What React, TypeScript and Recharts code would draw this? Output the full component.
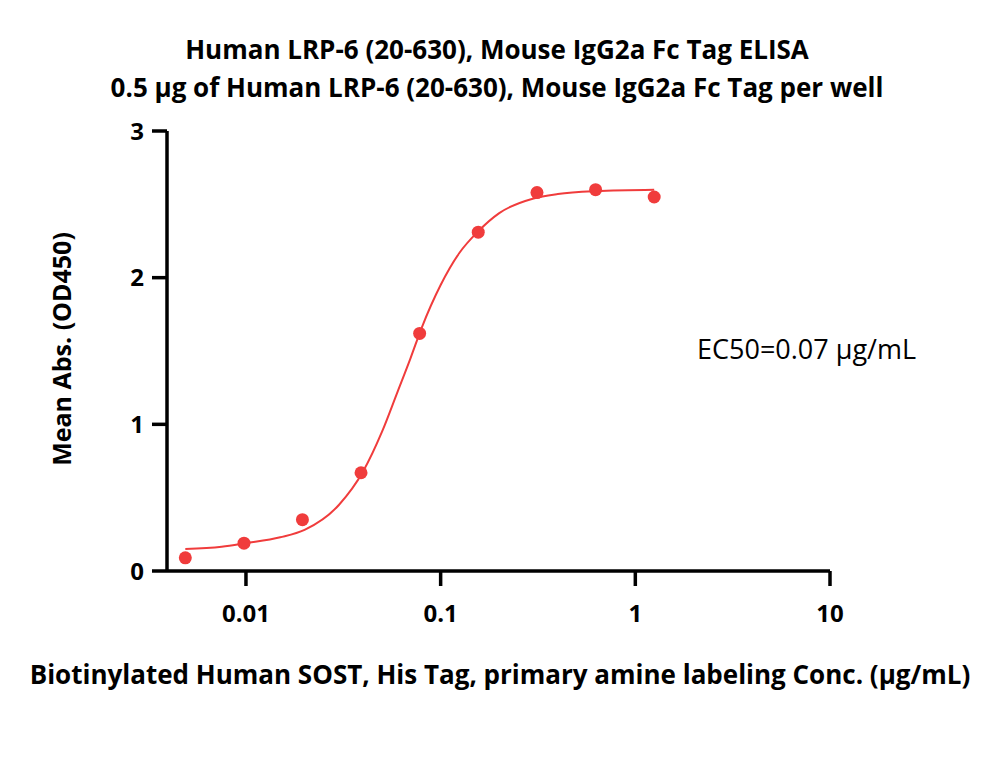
import React from 'react';
import { ComposedChart, Line, Scatter, XAxis, YAxis } from 'recharts';

const concentrations = [0.00488, 0.00977, 0.0195, 0.039, 0.078, 0.156, 0.3125, 0.625, 1.25];
const meanAbs = [0.09, 0.19, 0.35, 0.67, 1.62, 2.31, 2.58, 2.6, 2.55];

const curveX = [0.00488, 0.0075, 0.01, 0.015, 0.02, 0.03, 0.04, 0.05, 0.06, 0.07, 0.08, 0.1, 0.125, 0.157, 0.2, 0.3, 0.4, 0.625, 1.25];
const curveY = [0.15, 0.165, 0.19, 0.23, 0.28, 0.45, 0.68, 0.95, 1.22, 1.45, 1.66, 1.95, 2.17, 2.32, 2.44, 2.54, 2.57, 2.59, 2.6];

const xTicks = [0.01, 0.1, 1, 10];
const xTickLabels = ['0.01', '0.1', '1', '10'];
const yTicks = [0, 1, 2, 3];

const titleLine1 = 'Human LRP-6 (20-630), Mouse IgG2a Fc Tag ELISA';
const titleLine2 = '0.5 μg of Human LRP-6 (20-630), Mouse IgG2a Fc Tag per well';
const xLabel = 'Biotinylated Human SOST, His Tag, primary amine labeling Conc. (μg/mL)';
const yLabel = 'Mean Abs. (OD450)';
const ec50Text = 'EC50=0.07 μg/mL';

const pointData = concentrations.map((x, i) => ({ x, y: meanAbs[i] }));
const curveData = curveX.map((x, i) => ({ x, y: curveY[i] }));

const RED = '#F03C3C';
const FONT = "'Open Sans', sans-serif";

const XTick = (props: any) => {
  const { x, y, payload } = props;
  const idx = xTicks.indexOf(payload.value);
  return (
    <text x={x} y={y} dy="0.72em" textAnchor="middle" fontFamily={FONT} fontWeight={700} fontSize={24} fill="#000">
      {idx >= 0 ? xTickLabels[idx] : String(payload.value)}
    </text>
  );
};

const YTick = (props: any) => {
  const { x, y, payload } = props;
  return (
    <text x={x} y={y} dy="0.36em" textAnchor="end" fontFamily={FONT} fontWeight={700} fontSize={24} fill="#000">
      {String(payload.value)}
    </text>
  );
};

export default function App() {
  return (
    <div style={{ position: 'absolute', left: 0, top: 0, width: 1000, height: 759, background: '#fff' }}>
      <ComposedChart
        width={1000}
        height={759}
        margin={{ top: 131, right: 170, bottom: 108, left: 0 }}
      >
        <XAxis
          type="number"
          dataKey="x"
          scale="log"
          domain={[0.00393, 10]}
          ticks={xTicks}
          allowDataOverflow
          height={80}
          axisLine={{ stroke: '#000', strokeWidth: 3.5 }}
          tickLine={{ stroke: '#000', strokeWidth: 3.5 }}
          tickSize={15}
          tickMargin={19}
          tick={<XTick />}
        />
        <YAxis
          type="number"
          dataKey="y"
          domain={[0, 3]}
          ticks={yTicks}
          width={167}
          axisLine={{ stroke: '#000', strokeWidth: 3.5 }}
          tickLine={{ stroke: '#000', strokeWidth: 3.5 }}
          tickSize={15}
          tickMargin={8}
          tick={<YTick />}
        />
        <Line
          data={curveData}
          dataKey="y"
          type="monotone"
          stroke={RED}
          strokeWidth={2}
          dot={false}
          activeDot={false}
          isAnimationActive={false}
        />
        <Scatter
          data={pointData}
          dataKey="y"
          fill={RED}
          shape={(p: any) => <circle cx={p.cx} cy={p.cy} r={6.5} fill={RED} />}
          isAnimationActive={false}
        />
      </ComposedChart>
      <svg width={1000} height={759} style={{ position: 'absolute', left: 0, top: 0, pointerEvents: 'none' }}>
        <text x={497} y={59} textAnchor="middle" fontFamily={FONT} fontWeight={700} fontSize={26} fill="#000">{titleLine1}</text>
        <text x={497} y={97} textAnchor="middle" fontFamily={FONT} fontWeight={700} fontSize={26} fill="#000">{titleLine2}</text>
        <text x={500} y={684} textAnchor="middle" fontFamily={FONT} fontWeight={700} fontSize={26} fill="#000">{xLabel}</text>
        <text x={71} y={349} transform="rotate(-90 71 349)" textAnchor="middle" fontFamily={FONT} fontWeight={700} fontSize={25} fill="#000">{yLabel}</text>
        <text x={697} y={359} textAnchor="start" fontFamily={FONT} fontWeight={400} fontSize={27} fill="#000">{ec50Text}</text>
      </svg>
    </div>
  );
}
